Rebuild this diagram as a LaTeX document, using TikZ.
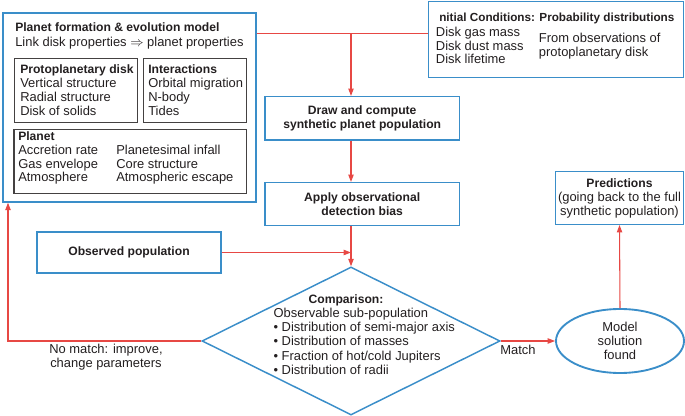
\documentclass[tikz,border=0pt]{standalone}
\usepackage{fontspec}
\setmainfont{Liberation Sans}
\usetikzlibrary{shapes.geometric,arrows.meta}
\definecolor{boxblue}{RGB}{58,142,201}
\definecolor{flowred}{RGB}{231,72,68}
\definecolor{ink}{RGB}{35,31,32}
\newcommand\pxu{0.75pt}
\newcommand\figfont{\fontsize{9.7}{10.5}\selectfont}
\newcommand\headfont{\fontsize{9.1}{10.5}\selectfont\bfseries}
\tikzset{
  bluebox/.style={draw=boxblue, line width=1.1pt, inner sep=0pt, text=ink, font=\figfont, align=center},
  subbox/.style={draw=ink!85, line width=0.9pt, inner sep=0pt},
  txt/.style={anchor=base west, inner sep=0pt, text=ink, font=\figfont},
  head/.style={txt, font=\headfont},
  line/.style={draw=flowred, line width=0.8pt},
  flow/.style={line, -{Triangle[length=5.5pt,width=4pt]}},
}

\begin{document}
\begin{tikzpicture}[x=0.75pt,y=-0.75pt]
\useasboundingbox (0,0) rectangle (685,416);
% model box
\node[bluebox, minimum width=253*\pxu, minimum height=189*\pxu] (model) at (129.5,107.5) {};
\node[head] (modeltitle) at (15,32) {Planet formation \& evolution model};
\node[txt] (modellink) at (15,47) {Link disk properties $\Rightarrow$ planet properties};
\node[subbox, minimum width=123*\pxu, minimum height=64.4*\pxu] (disk) at (76.2,90.5) {};
\node[subbox, minimum width=103.4*\pxu, minimum height=64.4*\pxu] (inter) at (195,90.5) {};
\node[subbox, minimum width=232.7*\pxu, minimum height=64*\pxu] (planet) at (130.4,161.3) {};
\node[head] (disktitle) at (20,74) {Protoplanetary disk};
\node[head] (intertitle) at (148,74) {Interactions};
\node[head] (planettitle) at (18,141) {Planet};
\foreach \t [count=\i] in {Vertical structure, Radial structure, Disk of solids}
  \node[txt] (disk-\i) at (20,74+13.8*\i) {\t};
\foreach \t [count=\i] in {Orbital migration, N-body, Tides}
  \node[txt] (inter-\i) at (148,74+13.8*\i) {\t};
\foreach \a/\b [count=\i] in {Accretion rate/Planetesimal infall, Gas envelope/Core structure, Atmosphere/Atmospheric escape}{
  \node[txt] (planeta-\i) at (18,141+13.6*\i) {\a};
  \node[txt] (planetb-\i) at (116,141+13.6*\i) {\b};
}
% initial conditions
\node[bluebox, minimum width=255*\pxu, minimum height=75.6*\pxu] (ic) at (555.8,39.5) {};
\node[head, font=\fontsize{8.8}{10.5}\selectfont\bfseries] (ictitle) at (439,21.5) {nitial Conditions: Probability distributions};
\foreach \t [count=\i] in {Disk gas mass, Disk dust mass, Disk lifetime}
  \node[txt] (ic-\i) at (435.7,22.5+13.8*\i) {\t};
\node[txt] (icobs-1) at (538.7,43) {From observations of};
\node[txt] (icobs-2) at (538.7,57) {protoplanetary disk};
% flow boxes
\node[bluebox, minimum width=194.3*\pxu, minimum height=43.3*\pxu, font=\headfont] (compute) at (362.2,118.3) {Draw and compute\\synthetic planet population};
\node[bluebox, minimum width=194.3*\pxu, minimum height=43*\pxu, font=\headfont] (apply) at (362.2,204.2) {Apply observational\\detection bias};
\node[bluebox, minimum width=184*\pxu, minimum height=41*\pxu, font=\headfont] (observed) at (129,252.5) {Observed population};
\node[diamond, draw=boxblue, line width=1.1pt, minimum width=298*\pxu, minimum height=148*\pxu, inner sep=0pt] (compare) at (351,341) {};
\node[head, anchor=base] (comparetitle) at (346,304) {Comparison:};
\foreach \t [count=\i] in {Observable sub-population, \textbullet\ Distribution of semi-major axis, \textbullet\ Distribution of masses, \textbullet\ Fraction of hot/cold Jupiters, \textbullet\ Distribution of radii}
  \node[txt] (compare-\i) at (273.3,304+14*\i) {\t};
\node[ellipse, draw=boxblue, line width=1.4pt, minimum width=128*\pxu, minimum height=64*\pxu, inner sep=0pt, align=center, text=ink, font=\figfont] (solution) at (620,341) {Model\\solution\\found};
\node[bluebox, minimum width=127.6*\pxu, minimum height=52.6*\pxu] (predict) at (619.5,198) {{\headfont Predictions}\\(going back to the full\\synthetic population)};
% connectors
\coordinate (split) at (351,33.3);
\coordinate (back) at (8,341);
\draw[line] (model.east |- split) -- (ic.west |- split);
\draw[flow] (split) -- (split |- compute.north);
\draw[flow] (split |- compute.south) -- (split |- apply.north);
\draw[flow] (split |- apply.south) -- (compare.north);
\draw[flow] (observed.east) -- (split |- observed.east);
\draw[flow] (compare.west) -- (back) -- (back |- model.south);
\draw[flow] (compare.east) -- (solution.west);
\draw[flow] (solution.north) -- (predict.south);
\node[txt, anchor=center, align=center] (nomatch) at (106,357) {No match: improve,\\change parameters};
\node[txt, anchor=center] (match) at (518,350) {Match};
\end{tikzpicture}
\end{document}
